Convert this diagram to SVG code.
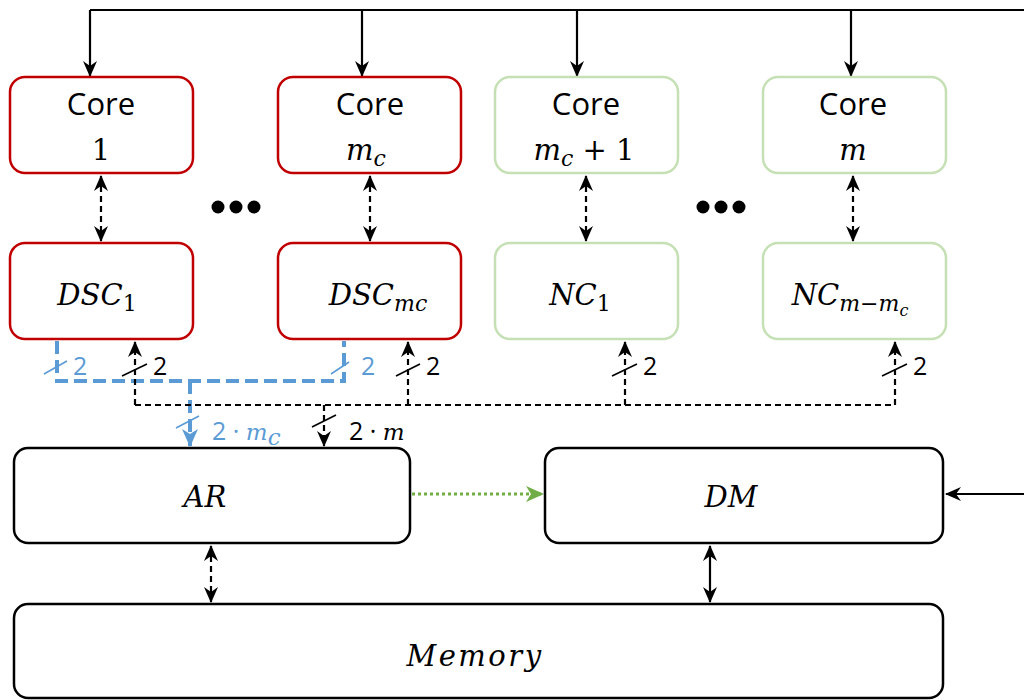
<svg xmlns="http://www.w3.org/2000/svg" width="1024" height="700" viewBox="0 0 1024 700">
<style>
.bg{fill:#fff}
.red{fill:#fff;stroke:#C00000;stroke-width:2.5}
.grn{fill:#fff;stroke:#C5E0B4;stroke-width:2.5}
.blk{fill:#fff;stroke:#000;stroke-width:2.5}
.lbl{font-family:"Open Sans","Noto Sans",sans-serif;font-size:31px;fill:#000;text-anchor:middle}
.m{font-family:"DejaVu Serif","Liberation Serif",serif;font-style:italic;font-size:29px;fill:#000;text-anchor:middle}
.up{font-style:normal}
.sub{font-size:22px}
.num{font-family:"Open Sans","Noto Sans",sans-serif;font-size:25px;fill:#000}
.bnum{font-family:"Open Sans","Noto Sans",sans-serif;font-size:25px;fill:#5B9BD5}
.sm{font-family:"DejaVu Serif","Liberation Serif",serif;font-size:23px}
.solid{fill:none;stroke:#000;stroke-width:2.2}
.dash{fill:none;stroke:#000;stroke-width:2.2;stroke-dasharray:6 4}
.blue{fill:none;stroke:#5B9BD5;stroke-width:4;stroke-dasharray:13 6}
.bslash{stroke:#5B9BD5;stroke-width:1.6}
.kslash{stroke:#000;stroke-width:1.6}
</style>
<defs>
<marker id="ak" markerUnits="userSpaceOnUse" markerWidth="16" markerHeight="14" viewBox="0 0 16 14" refX="15" refY="7" orient="auto-start-reverse">
<path d="M0,0 L16,7 L0,14 L5,7 z" fill="#000" stroke="none"/>
</marker>
<marker id="ab" markerUnits="userSpaceOnUse" markerWidth="18" markerHeight="16" viewBox="0 0 18 16" refX="17" refY="8" orient="auto">
<path d="M0,0 L18,8 L0,16 L5,8 z" fill="#5B9BD5" stroke="none"/>
</marker>
<marker id="ag" markerUnits="userSpaceOnUse" markerWidth="18" markerHeight="16" viewBox="0 0 18 16" refX="17" refY="8" orient="auto">
<path d="M0,0 L18,8 L0,16 L5,8 z" fill="#70AD47" stroke="none"/>
</marker>
</defs>
<rect class="bg" x="0" y="0" width="1024" height="700"/>

<g id="connectors">
<path class="solid" d="M90,10 H1024"/>
<path class="solid" d="M90,10 V76" marker-end="url(#ak)"/>
<path class="solid" d="M362,10 V76" marker-end="url(#ak)"/>
<path class="solid" d="M577,10 V76" marker-end="url(#ak)"/>
<path class="solid" d="M851,10 V76" marker-end="url(#ak)"/>

<path class="dash" d="M101,176 V241" marker-start="url(#ak)" marker-end="url(#ak)"/>
<path class="dash" d="M370,176 V241" marker-start="url(#ak)" marker-end="url(#ak)"/>
<path class="dash" d="M586,176 V241" marker-start="url(#ak)" marker-end="url(#ak)"/>
<path class="dash" d="M853,176 V241" marker-start="url(#ak)" marker-end="url(#ak)"/>

<path class="blue" d="M57,341 V381 H344 V341"/>
<path class="blue" d="M190,381 V446" marker-end="url(#ab)"/>
<line class="bslash" x1="44" y1="374" x2="67" y2="361"/>
<line class="bslash" x1="331" y1="374" x2="349" y2="362"/>
<line class="bslash" x1="176" y1="428" x2="199" y2="416"/>

<path class="dash" d="M135,405 H895"/>
<path class="dash" d="M135,405 V342" marker-end="url(#ak)"/>
<path class="dash" d="M408,405 V342" marker-end="url(#ak)"/>
<path class="dash" d="M625,405 V342" marker-end="url(#ak)"/>
<path class="dash" d="M895,405 V342" marker-end="url(#ak)"/>
<path class="dash" d="M324,405 V446" marker-end="url(#ak)"/>
<line class="kslash" x1="122" y1="376" x2="147" y2="364"/>
<line class="kslash" x1="396" y1="376" x2="420" y2="364"/>
<line class="kslash" x1="612" y1="376" x2="637" y2="364"/>
<line class="kslash" x1="882" y1="376" x2="907" y2="364"/>
<line class="kslash" x1="312" y1="427" x2="336" y2="415"/>

<text class="bnum" x="73" y="375">2</text>
<text class="bnum" x="361" y="375">2</text>
<text class="num" x="153" y="375">2</text>
<text class="num" x="426" y="375">2</text>
<text class="num" x="643" y="375">2</text>
<text class="num" x="913" y="375">2</text>
<text class="bnum" x="212" y="440">2 · <tspan class="sm" font-style="italic">m</tspan><tspan class="sm" font-style="italic" font-size="17" dy="5">c</tspan></text>
<text class="num" x="349" y="440">2 · <tspan class="sm" font-style="italic">m</tspan></text>

<path d="M412,494 H543" fill="none" stroke="#70AD47" stroke-width="3" stroke-dasharray="3 3" marker-end="url(#ag)"/>
<path class="solid" d="M1024,494 H946" marker-end="url(#ak)"/>
<path class="dash" d="M211,546 V602" marker-start="url(#ak)" marker-end="url(#ak)"/>
<path class="solid" d="M710,546 V602" marker-start="url(#ak)" marker-end="url(#ak)"/>
</g>

<g id="ellipsis1"><circle cx="218" cy="207" r="6.5"/><circle cx="236" cy="207" r="6.5"/><circle cx="254" cy="207" r="6.5"/></g>
<g id="ellipsis2"><circle cx="703" cy="207" r="6.5"/><circle cx="721" cy="207" r="6.5"/><circle cx="739" cy="207" r="6.5"/></g>

<g id="core1"><rect class="red" x="10" y="77" width="183" height="96" rx="15"/>
<text class="lbl" x="101" y="115">Core</text>
<text class="m" x="101" y="160"><tspan class="up">1</tspan></text></g>
<g id="coremc"><rect class="red" x="278" y="77" width="183" height="96" rx="15"/>
<text class="lbl" x="370" y="115">Core</text>
<text class="m" x="366" y="160">m<tspan class="sub" dy="6">c</tspan></text></g>
<g id="coremc1"><rect class="grn" x="495" y="77" width="183" height="96" rx="15"/>
<text class="lbl" x="586" y="115">Core</text>
<text class="m" x="584" y="160">m<tspan class="sub" dy="6">c</tspan><tspan class="up" dy="-6"> + 1</tspan></text></g>
<g id="corem"><rect class="grn" x="763" y="77" width="183" height="96" rx="15"/>
<text class="lbl" x="853" y="115">Core</text>
<text class="m" x="853" y="160">m</text></g>

<g id="dsc1"><rect class="red" x="10" y="243" width="183" height="96" rx="15"/>
<text class="m" x="97" y="305">DSC<tspan class="sub up" dy="6">1</tspan></text></g>
<g id="dscmc"><rect class="red" x="278" y="243" width="183" height="96" rx="15"/>
<text class="m" x="378" y="305">DSC<tspan class="sub" dy="6">mc</tspan></text></g>
<g id="nc1"><rect class="grn" x="495" y="243" width="183" height="96" rx="15"/>
<text class="m" x="580" y="305">NC<tspan class="sub up" dy="6">1</tspan></text></g>
<g id="ncm"><rect class="grn" x="763" y="243" width="183" height="96" rx="15"/>
<text class="m" x="850" y="305">NC<tspan class="sub" dy="6">m−m</tspan><tspan font-size="16" dy="5">c</tspan></text></g>

<g id="ar"><rect class="blk" x="14" y="448" width="396" height="95" rx="14"/>
<text class="m" x="205" y="507">AR</text></g>
<g id="dm"><rect class="blk" x="545" y="448" width="398" height="95" rx="14"/>
<text class="m" x="731" y="507">DM</text></g>
<g id="memory"><rect class="blk" x="14" y="604" width="929" height="94" rx="14"/>
<text class="m" x="475" y="666" letter-spacing="2.5">Memory</text></g>
</svg>
